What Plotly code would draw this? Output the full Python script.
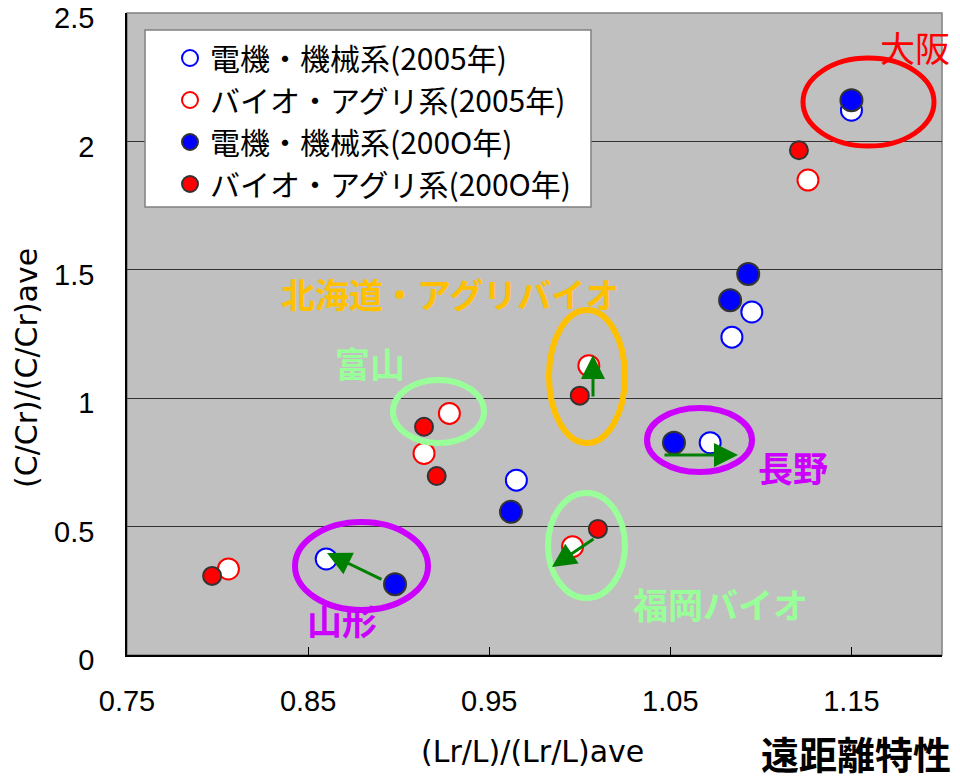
import plotly.graph_objects as go

# ---- data ----
names = ["電機・機械系(2005年)", "バイオ・アグリ系(2005年)", "電機・機械系(200O年)", "バイオ・アグリ系(200O年)"]

elec05_x = [0.860, 0.965, 1.072, 1.084, 1.095, 1.150]
elec05_y = [0.374, 0.681, 0.827, 1.238, 1.336, 2.122]

bio05_x = [0.806, 0.914, 0.928, 0.996, 1.005, 1.126]
bio05_y = [0.335, 0.785, 0.941, 0.422, 1.127, 1.850]

elec00_x = [0.898, 0.962, 1.052, 1.083, 1.093, 1.150]
elec00_y = [0.276, 0.558, 0.827, 1.382, 1.484, 2.161]

bio00_x = [0.797, 0.914, 0.921, 1.000, 1.010, 1.121]
bio00_y = [0.308, 0.889, 0.697, 1.010, 0.491, 1.966]

x_ticks = [0.75, 0.85, 0.95, 1.05, 1.15]
y_ticks = [0, 0.5, 1, 1.5, 2, 2.5]

# ---- geometry helpers (plot area in page pixels) ----
L, R, T, B = 127, 942, 13, 655
XMIN, XMAX, YMIN, YMAX = 0.75, 1.20, 0.0, 2.5
FIG_W, FIG_H = 960, 780


def px2x(px):
    return XMIN + (px - L) / (R - L) * (XMAX - XMIN)


def py2y(py):
    return YMIN + (B - py) / (B - T) * (YMAX - YMIN)


def pxp(px):
    return (px - L) / (R - L)


def pyp(py):
    return (B - py) / (B - T)


fig = go.Figure()

fig.add_trace(go.Scatter(
    x=elec05_x, y=elec05_y, mode="markers", name=names[0], legendgroup="a",
    marker=dict(size=21, color="white", line=dict(color="#0000FF", width=2))))
fig.add_trace(go.Scatter(
    x=bio05_x, y=bio05_y, mode="markers", name=names[1], legendgroup="b",
    marker=dict(size=21, color="white", line=dict(color="#FF0000", width=2))))
fig.add_trace(go.Scatter(
    x=elec00_x, y=elec00_y, mode="markers", name=names[2], legendgroup="c",
    marker=dict(size=22, color="#0000FF", line=dict(color="#333333", width=2))))
fig.add_trace(go.Scatter(
    x=bio00_x, y=bio00_y, mode="markers", name=names[3], legendgroup="d",
    marker=dict(size=18, color="#FF0000", line=dict(color="#333333", width=2))))

shapes = []
# frame (top/right grey)
shapes.append(dict(type="rect", xref="paper", yref="paper", x0=0, x1=1, y0=0, y1=1,
                   line=dict(color="#808080", width=1.5), layer="below"))
# legend box
shapes.append(dict(type="rect", xref="paper", yref="paper",
                   x0=pxp(145), x1=pxp(591), y0=pyp(207), y1=pyp(30),
                   fillcolor="white", line=dict(color="#808080", width=1.5), layer="above"))

ellipses = [
    (803, 934, 58, 146, "#FF0000", 5),
    (549, 625, 310, 443, "#FFC000", 6),
    (393, 484, 380, 443, "#99FF99", 6),
    (647, 752, 408, 472, "#CC00FF", 6),
    (295, 428, 522, 610, "#CC00FF", 6),
    (548, 625, 493, 598, "#99FF99", 6),
]
for x0, x1, y0, y1, c, w in ellipses:
    shapes.append(dict(type="circle", xref="x", yref="y",
                       x0=px2x(x0), x1=px2x(x1), y0=py2y(y1), y1=py2y(y0),
                       line=dict(color=c, width=w), layer="above"))

annotations = []
labels = [
    ("大阪", 915, 46, "#FF0000", 35, False),
    ("北海道・アグリバイオ", 450, 293, "#FFC000", 34, True),
    ("富山", 370, 362, "#99FF99", 35, True),
    ("長野", 793, 466, "#CC00FF", 35, True),
    ("山形", 342, 619, "#CC00FF", 35, True),
    ("福岡バイオ", 720, 603, "#99FF99", 35, True),
]
for t, cx, cy, c, s, bold in labels:
    annotations.append(dict(
        text=("<b>%s</b>" % t) if bold else t, x=px2x(cx), y=py2y(cy), xref="x", yref="y",
        showarrow=False, xanchor="center", yanchor="middle",
        font=dict(family="Noto Sans CJK JP", size=s, color=c)))

arrows = [
    ((593, 398), (593, 355)),
    ((663, 455), (738, 455)),
    ((383, 580), (327, 553)),
    ((595, 538), (552, 567)),
]
for (tx, ty), (hx, hy) in arrows:
    annotations.append(dict(
        text="", x=px2x(hx), y=py2y(hy), ax=px2x(tx), ay=py2y(ty),
        xref="x", yref="y", axref="x", ayref="y", showarrow=True,
        arrowhead=2, arrowsize=1.6, arrowwidth=3, arrowcolor="#008000", standoff=0))

# axis titles and side label
annotations.append(dict(
    text="(Lr/L)/(Lr/L)ave", xref="paper", yref="paper",
    x=pxp(532), y=pyp(751), showarrow=False,
    xanchor="center", yanchor="middle",
    font=dict(family="DejaVu Sans", size=30, color="black")))
annotations.append(dict(
    text="(C/Cr)/(C/Cr)ave", xref="paper", yref="paper", textangle=-90,
    x=pxp(26), y=pyp(368), showarrow=False,
    xanchor="center", yanchor="middle",
    font=dict(family="DejaVu Sans", size=30, color="black")))
annotations.append(dict(
    text="<b>遠距離特性</b>", xref="paper", yref="paper",
    x=pxp(856), y=pyp(753), showarrow=False,
    xanchor="center", yanchor="middle",
    font=dict(family="Noto Sans CJK JP", size=38, color="black")))

fig.update_layout(
    width=FIG_W, height=FIG_H,
    margin=dict(l=L, r=FIG_W - R, t=T, b=FIG_H - B, pad=0),
    paper_bgcolor="white", plot_bgcolor="#C0C0C0",
    shapes=shapes, annotations=annotations,
    showlegend=True,
    legend=dict(
        x=pxp(170), y=pyp(32), xanchor="left", yanchor="top",
        bgcolor="rgba(0,0,0,0)", borderwidth=0, itemsizing="trace",
        tracegroupgap=0,
        font=dict(family="Noto Sans CJK JP", size=30, color="black")),
    xaxis=dict(
        range=[XMIN, XMAX], tickmode="array", tickvals=x_ticks,
        ticktext=["%.2f" % v for v in x_ticks],
        ticks="inside", ticklen=8, tickcolor="black", tickwidth=1,
        showline=True, linecolor="black", linewidth=1.5, showgrid=False, zeroline=False,
        ticklabelstandoff=19, automargin=False,
        tickfont=dict(family="Liberation Sans", size=29, color="black")),
    yaxis=dict(
        range=[YMIN, YMAX + 0.0005], tickmode="array", tickvals=y_ticks,
        ticktext=[("%g" % v) for v in y_ticks],
        ticks="", showline=True, linecolor="black", linewidth=1.5,
        showgrid=True, gridcolor="#333333", gridwidth=1, zeroline=False,
        ticklabelstandoff=25, ticklabelshift=5, ticklabeloverflow="allow", automargin=False,
        tickfont=dict(family="Liberation Sans", size=29, color="black")),
)

fig.write_html("out.html", config={"displayModeBar": False},
               post_script="document.body.style.margin='0px';")
